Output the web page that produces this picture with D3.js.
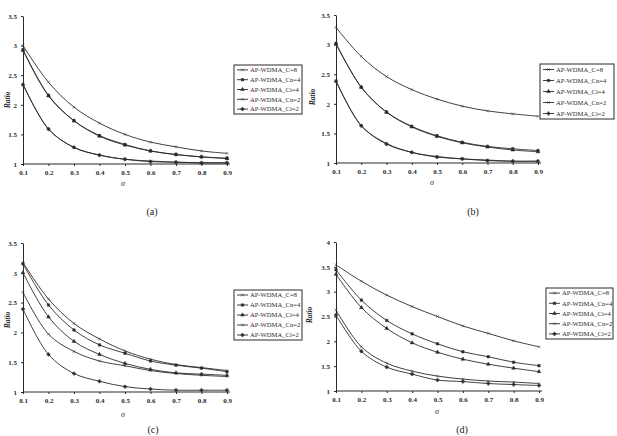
<!DOCTYPE html>
<html>
<head>
<meta charset="utf-8">
<script src="https://cdn.jsdelivr.net/npm/d3@7"></script>
<style>
    html, body { margin: 0; padding: 0; background: #fff; }
    svg { display: block; font-family: "Liberation Serif", "DejaVu Serif", serif; }
</style>
</head>
<body>
<script>
"use strict";

const WIDTH = 617;
const HEIGHT = 436;
const INK = "#2a2a2a";

// sigma values on the x axis
const SIGMA = [0.1, 0.2, 0.3, 0.4, 0.5, 0.6, 0.7, 0.8, 0.9];
const SERIES_NAMES = ["AP-WDMA_C=8", "AP-WDMA_Cn=4", "AP-WDMA_Ci=4", "AP-WDMA_Cn=2", "AP-WDMA_Ci=2"];
const Y_TICKS_35 = [1, 1.5, 2, 2.5, 3, 3.5];
const Y_TICKS_4 = [1, 1.5, 2, 2.5, 3, 3.5, 4];
const CAPTIONS = ["(a)", "(b)", "(c)", "(d)"];

// one row per series, same order as SERIES_NAMES
const PANEL_A = [
    [3.00, 2.38, 1.96, 1.69, 1.50, 1.37, 1.29, 1.22, 1.18],
    [2.93, 2.16, 1.73, 1.48, 1.33, 1.22, 1.16, 1.12, 1.10],
    [2.92, 2.15, 1.73, 1.47, 1.32, 1.22, 1.16, 1.12, 1.09],
    [2.35, 1.59, 1.28, 1.15, 1.08, 1.05, 1.03, 1.02, 1.02],
    [2.34, 1.59, 1.28, 1.15, 1.08, 1.04, 1.03, 1.02, 1.02]
];
const PANEL_B = [
    [3.29, 2.80, 2.46, 2.24, 2.08, 1.96, 1.88, 1.83, 1.79],
    [3.02, 2.28, 1.86, 1.62, 1.46, 1.35, 1.28, 1.24, 1.21],
    [3.01, 2.28, 1.86, 1.61, 1.45, 1.34, 1.27, 1.22, 1.19],
    [2.39, 1.63, 1.33, 1.18, 1.11, 1.07, 1.05, 1.03, 1.03],
    [2.38, 1.63, 1.32, 1.18, 1.10, 1.07, 1.04, 1.03, 1.03]
];
const PANEL_C = [
    [3.17, 2.56, 2.15, 1.89, 1.69, 1.55, 1.46, 1.41, 1.36],
    [3.15, 2.46, 2.04, 1.79, 1.65, 1.52, 1.45, 1.40, 1.34],
    [3.00, 2.26, 1.85, 1.63, 1.48, 1.38, 1.32, 1.30, 1.28],
    [2.67, 1.97, 1.68, 1.52, 1.44, 1.36, 1.31, 1.28, 1.26],
    [2.39, 1.63, 1.31, 1.18, 1.09, 1.05, 1.03, 1.03, 1.03]
];
const PANEL_D = [
    [3.54, 3.21, 2.93, 2.70, 2.50, 2.31, 2.16, 2.01, 1.89],
    [3.44, 2.83, 2.42, 2.15, 1.95, 1.79, 1.69, 1.58, 1.51],
    [3.35, 2.68, 2.26, 1.97, 1.78, 1.64, 1.54, 1.46, 1.39],
    [2.63, 1.89, 1.56, 1.40, 1.30, 1.24, 1.20, 1.18, 1.15],
    [2.53, 1.80, 1.48, 1.34, 1.22, 1.19, 1.15, 1.13, 1.11]
];

const PANELS = [
    { data: PANEL_A, ticks: Y_TICKS_35, x0: 23, x1: 227, yBottom: 164, yTop: 16,
      legend: { x: 234, y: 65, w: 68, h: 49 }, ratio: [10, 100], sigma: [123, 186], caption: [152, 215] },
    { data: PANEL_B, ticks: Y_TICKS_35, x0: 336, x1: 538, yBottom: 163, yTop: 15,
      legend: { x: 540, y: 64, w: 74, h: 55 }, ratio: [315, 97], sigma: [432, 185], caption: [473, 215] },
    { data: PANEL_C, ticks: Y_TICKS_35, x0: 23, x1: 227, yBottom: 392, yTop: 243,
      legend: { x: 234, y: 290, w: 68, h: 50 }, ratio: [10, 320], sigma: [123, 417], caption: [153, 433] },
    { data: PANEL_D, ticks: Y_TICKS_4, x0: 336, x1: 539, yBottom: 391, yTop: 242,
      legend: { x: 546, y: 288, w: 67, h: 51 }, ratio: [312, 315], sigma: [437, 414], caption: [462, 433] }
];

// small markers, one per series
const MARKERS = [
    d3.symbol().type(d3.symbolX).size(6),
    d3.symbol().type(d3.symbolSquare).size(6),
    d3.symbol().type(d3.symbolTriangle).size(6),
    d3.symbol().type(d3.symbolX).size(6),
    d3.symbol().type(d3.symbolCross).size(6)
];

const svg = d3.select("body")
    .append("svg")
    .attr("width", WIDTH)
    .attr("height", HEIGHT);

PANELS.forEach((panel, index) => renderPanel(svg, panel, CAPTIONS[index]));

function renderPanel(container, panel, caption) {
    const yMax = d3.max(panel.ticks);
    const x = d3.scaleLinear().domain([0.1, 0.9]).range([panel.x0, panel.x1]);
    const y = d3.scaleLinear().domain([1, yMax]).range([panel.yBottom, panel.yTop]);

    const g = container.append("g");

    // axes
    const xAxis = g.append("g")
        .attr("transform", `translate(0, ${panel.yBottom})`)
        .call(d3.axisBottom(x).tickValues(SIGMA).tickFormat(d3.format(".1f"))
            .tickSizeInner(2).tickSizeOuter(0).tickPadding(4));
    xAxis.select(".domain").attr("d", `M${panel.x0},0H${panel.x1 + 3}`);

    const yAxis = g.append("g")
        .attr("transform", `translate(${panel.x0}, 0)`)
        .call(d3.axisLeft(y).tickValues(panel.ticks).tickFormat(d3.format("~g"))
            .tickSizeInner(2).tickSizeOuter(0).tickPadding(4));

    [xAxis, yAxis].forEach(axis => {
        axis.selectAll("path, line").attr("stroke", INK).attr("stroke-width", 1);
        axis.selectAll("text")
            .attr("fill", INK)
            .attr("font-family", "Liberation Serif, serif")
            .attr("font-weight", "bold")
            .attr("font-size", 7);
    });

    // axis titles
    g.append("text")
        .attr("transform", `translate(${panel.ratio[0]}, ${panel.ratio[1]}) rotate(-90)`)
        .attr("text-anchor", "middle")
        .attr("font-size", 7.5)
        .attr("font-weight", "bold")
        .attr("font-style", "italic")
        .attr("fill", INK)
        .text("Ratio");

    g.append("text")
        .attr("x", panel.sigma[0])
        .attr("y", panel.sigma[1])
        .attr("text-anchor", "middle")
        .attr("font-size", 8)
        .attr("font-style", "italic")
        .attr("fill", INK)
        .text("σ");

    // series lines, smoothed like the original spreadsheet plot
    const line = d3.line()
        .x((_, i) => x(SIGMA[i]))
        .y(d => y(d))
        .curve(d3.curveCatmullRom.alpha(0.5));

    panel.data.forEach((values, seriesIndex) => {
        g.append("path")
            .attr("d", line(values))
            .attr("fill", "none")
            .attr("stroke", INK)
            .attr("stroke-width", 0.9);

        g.selectAll(null)
            .data(values)
            .enter()
            .append("path")
            .attr("transform", (d, i) => `translate(${x(SIGMA[i])}, ${y(d)})`)
            .attr("d", MARKERS[seriesIndex]())
            .attr("fill", INK)
            .attr("stroke", INK)
            .attr("stroke-width", 0.5);
    });

    renderLegend(g, panel.legend);

    g.append("text")
        .attr("x", panel.caption[0])
        .attr("y", panel.caption[1])
        .attr("text-anchor", "middle")
        .attr("font-size", 10)
        .attr("fill", "#222")
        .text(caption);
}

function renderLegend(container, box) {
    const legend = container.append("g")
        .attr("transform", `translate(${box.x}, ${box.y})`);

    legend.append("rect")
        .attr("width", box.w)
        .attr("height", box.h)
        .attr("fill", "#fff")
        .attr("stroke", INK)
        .attr("stroke-width", 1);

    const rowHeight = box.h / SERIES_NAMES.length;

    const rows = legend.selectAll(".legend-row")
        .data(SERIES_NAMES)
        .enter()
        .append("g")
        .classed("legend-row", true)
        .attr("transform", (_, i) => `translate(0, ${rowHeight * (i + 0.5)})`);

    rows.append("line")
        .attr("x1", 3)
        .attr("x2", 14)
        .attr("stroke", INK)
        .attr("stroke-width", 0.9);

    rows.append("path")
        .attr("transform", "translate(8.5, 0)")
        .attr("d", (_, i) => MARKERS[i]())
        .attr("fill", INK)
        .attr("stroke", INK)
        .attr("stroke-width", 0.5);

    rows.append("text")
        .attr("x", 16)
        .attr("dy", "0.35em")
        .attr("font-size", 6.6)
        .attr("fill", INK)
        .text(d => d);
}
</script>
</body>
</html>
